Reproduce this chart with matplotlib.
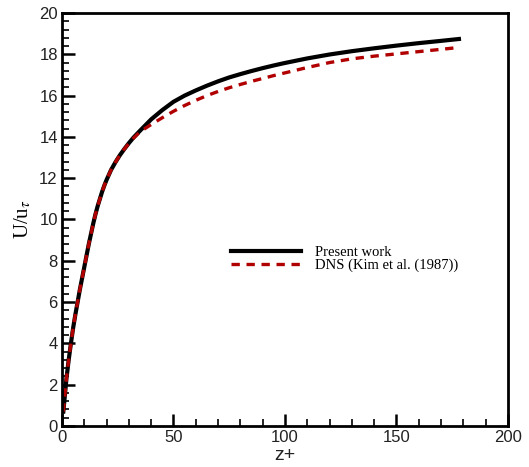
import numpy as np
import matplotlib
matplotlib.use('Agg')
import matplotlib.pyplot as plt
from matplotlib.ticker import MultipleLocator

# Mean velocity profile values
z_present = [0.6, 1, 2, 3, 4, 5, 6, 7, 8, 9, 10, 11, 12, 13, 14, 15, 16, 17,
             18, 19, 20, 22, 24, 26, 28, 30, 32, 35, 40, 45, 50, 55, 60, 65,
             70, 75, 80, 85, 90, 95, 100, 110, 120, 130, 140, 150, 160, 170, 178]
u_present = [0.7, 1.15, 2.3, 3.2, 4.0, 4.75, 5.4, 6.0, 6.6, 7.15, 7.7, 8.25,
             8.8, 9.3, 9.8, 10.25, 10.65, 11.0, 11.35, 11.65, 11.92, 12.4,
             12.78, 13.12, 13.42, 13.7, 13.96, 14.3, 14.85, 15.3, 15.7, 16.0,
             16.25, 16.48, 16.69, 16.88, 17.04, 17.19, 17.33, 17.46, 17.58,
             17.8, 17.99, 18.15, 18.29, 18.42, 18.54, 18.65, 18.74]

z_dns = [0.6, 1, 2, 3, 4, 5, 6, 7, 8, 9, 10, 11, 12, 13, 14, 15, 16, 17,
         18, 19, 20, 22, 24, 26, 28, 30, 32, 35, 40, 45, 50, 55, 60, 65,
         70, 75, 80, 85, 90, 95, 100, 110, 120, 130, 140, 150, 160, 170, 178]
u_dns = [0.7, 1.15, 2.3, 3.2, 4.0, 4.75, 5.4, 6.0, 6.6, 7.15, 7.7, 8.25,
         8.8, 9.3, 9.8, 10.25, 10.65, 11.0, 11.35, 11.65, 11.92, 12.4,
         12.78, 13.12, 13.42, 13.68, 13.93, 14.25, 14.6, 14.93, 15.24, 15.52,
         15.77, 16.0, 16.2, 16.38, 16.54, 16.69, 16.83, 16.97, 17.1, 17.36,
         17.6, 17.78, 17.91, 18.02, 18.13, 18.24, 18.33]

labels = ['Present work', 'DNS (Kim et al. (1987))']

plt.rcParams['mathtext.fontset'] = 'stix'

fig = plt.figure(figsize=(5.29, 4.67), dpi=100)
ax = fig.add_axes([0.1172, 0.0878, 0.8431, 0.8844])

ax.plot(z_present, u_present, color='black', lw=3.0, label=labels[0],
        solid_joinstyle='round')
ax.plot(z_dns, u_dns, color='#b00000', lw=2.4, dashes=(2.5, 2.0), label=labels[1])

ax.set_xlim(0, 200)
ax.set_ylim(0, 20)
ax.xaxis.set_major_locator(MultipleLocator(50))
ax.xaxis.set_minor_locator(MultipleLocator(10))
ax.yaxis.set_major_locator(MultipleLocator(2))
ax.yaxis.set_minor_locator(MultipleLocator(0.4))
ax.tick_params(which='both', direction='in', top=False, right=False, colors='black',
               labelcolor='#222222', labelsize=12)
ax.tick_params(which='major', length=9, width=1.8, pad=3)
ax.tick_params(which='minor', length=5, width=1.2)
for lab in ax.get_xticklabels() + ax.get_yticklabels():
    lab.set_family('Liberation Sans')
for sp in ax.spines.values():
    sp.set_linewidth(2.0)

ax.set_xlabel('z+', family='Liberation Sans', fontsize=14, color='#222222', labelpad=1)
ax.set_ylabel('U/u$_\\tau$', family='Liberation Serif', fontsize=15, labelpad=4)

ax.legend(loc='center left', bbox_to_anchor=(0.379, 0.404), frameon=False,
          prop={'family': 'Liberation Serif', 'size': 10.5},
          handlelength=4.8, handletextpad=0.95, labelspacing=0.0,
          borderpad=0, borderaxespad=0)

fig.savefig('out.png', dpi=100)
